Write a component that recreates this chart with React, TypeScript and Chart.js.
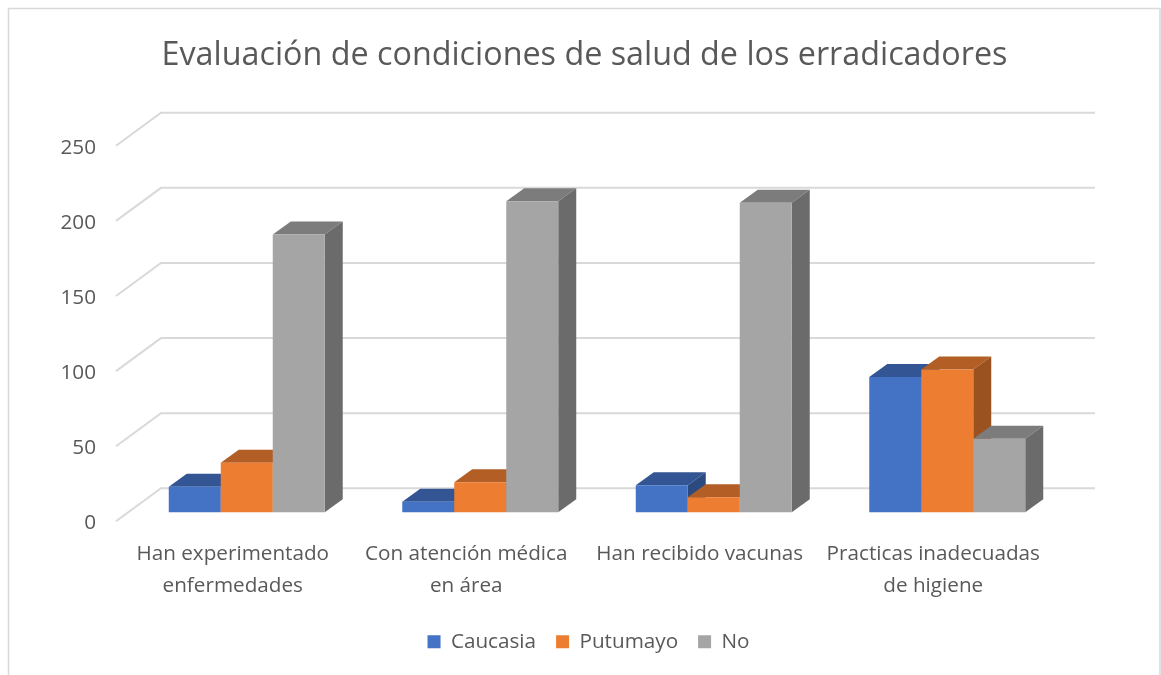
import React, { useEffect, useRef } from "react";
import { Chart, registerables } from "chart.js";

Chart.register(...registerables);

const categories = [
  ["Han experimentado", "enfermedades"],
  ["Con atención médica", "en área"],
  "Han recibido vacunas",
  ["Practicas inadecuadas", "de higiene"],
];
const caucasia = [17, 7, 18, 90];
const putumayo = [33, 20, 10, 95];
const no = [185, 207, 206, 49];
const yTicks = [0, 50, 100, 150, 200, 250];

const FONT = "'Open Sans', sans-serif";
const TEXT = "#595959";
const GRID = "#d9d9d9";
const WALL_X_OFFSET = 45;
const WALL_Y_OFFSET = -33;
const WALL_RIGHT = 1095;
const FRONT_Y_OFFSET = -2;
const BAR_SHIFT_X = 14;
const BAR_SHIFT_Y = -11;
const DEPTH_X = 18;
const DEPTH_Y = -13;
const LEGEND_SHIFT = 4;

const faces: Record<string, { top: string; side: string }> = {
  Caucasia: { top: "#335593", side: "#2b4a80" },
  Putumayo: { top: "#b25e24", side: "#9a5220" },
  No: { top: "#7c7c7c", side: "#6b6b6b" },
};

const framePlugin = {
  id: "frame",
  afterLayout(chart: any) {
    chart.legend.left += LEGEND_SHIFT;
    chart.legend.right += LEGEND_SHIFT;
  },
  beforeDraw(chart: any) {
    const { ctx, width, height } = chart;
    ctx.save();
    ctx.strokeStyle = GRID;
    ctx.lineWidth = 1.5;
    ctx.beginPath();
    ctx.moveTo(8.5, height);
    ctx.lineTo(8.5, 8.5);
    ctx.lineTo(width - 1, 8.5);
    ctx.lineTo(width - 1, height);
    ctx.stroke();
    ctx.restore();
  },
};

const scene3dPlugin = {
  id: "scene3d",
  beforeDatasetsDraw(chart: any) {
    const { ctx, chartArea } = chart;
    const y = chart.scales.y;
    ctx.save();
    ctx.strokeStyle = GRID;
    ctx.lineWidth = 2;
    yTicks.forEach((v) => {
      const py = y.getPixelForValue(v) + FRONT_Y_OFFSET;
      ctx.beginPath();
      ctx.moveTo(chartArea.left, py);
      ctx.lineTo(chartArea.left + WALL_X_OFFSET, py + WALL_Y_OFFSET);
      ctx.lineTo(WALL_RIGHT, py + WALL_Y_OFFSET);
      ctx.stroke();
    });
    ctx.restore();

    // Excel paints the series left to right, so later series cover earlier ones.
    chart.data.datasets.forEach((ds: any, index: number) => {
      const meta = chart.getDatasetMeta(index);
      ctx.save();
      ctx.translate(BAR_SHIFT_X, BAR_SHIFT_Y);
      meta.data.forEach((el: any) => {
        const l = el.x - el.width / 2;
        const r = el.x + el.width / 2;
        ctx.fillStyle = faces[ds.label].top;
        ctx.beginPath();
        ctx.moveTo(l, el.y);
        ctx.lineTo(l + DEPTH_X, el.y + DEPTH_Y);
        ctx.lineTo(r + DEPTH_X, el.y + DEPTH_Y);
        ctx.lineTo(r, el.y);
        ctx.closePath();
        ctx.fill();
        ctx.fillStyle = faces[ds.label].side;
        ctx.beginPath();
        ctx.moveTo(r, el.y);
        ctx.lineTo(r + DEPTH_X, el.y + DEPTH_Y);
        ctx.lineTo(r + DEPTH_X, el.base + DEPTH_Y);
        ctx.lineTo(r, el.base);
        ctx.closePath();
        ctx.fill();
      });
      meta.controller.draw();
      ctx.restore();
    });
    return false;
  },
};

export default function App() {
  const ref = useRef<HTMLCanvasElement>(null);
  useEffect(() => {
    const chart = new Chart(ref.current!, {
      type: "bar",
      data: {
        labels: categories as any,
        datasets: [
          { label: "Caucasia", data: caucasia, backgroundColor: "#4472c4", yAxisID: "y" },
          { label: "Putumayo", data: putumayo, backgroundColor: "#ed7d31", yAxisID: "y" },
          { label: "No", data: no, backgroundColor: "#a5a5a5", yAxisID: "y" },
        ],
      },
      plugins: [framePlugin, scene3dPlugin],
      options: {
        responsive: false,
        animation: false,
        layout: { padding: { left: 8, right: 0, top: 0, bottom: 13 } },
        datasets: { bar: { barPercentage: 1, categoryPercentage: 0.668 } },
        scales: {
          x: {
            grid: { display: false },
            border: { display: false },
            afterFit: (s: any) => { s.height = 88; },
            ticks: {
              maxRotation: 0,
              autoSkip: false,
              padding: 7,
              color: TEXT,
              font: { family: FONT, size: 20.7, lineHeight: 1.55 },
            },
          },
          y: {
            min: 0,
            max: 250,
            afterFit: (s: any) => { s.width = 108; },
            grid: { display: false },
            border: { display: false },
            afterBuildTicks: (s: any) => { s.ticks = yTicks.map((value) => ({ value })); },
            ticks: {
              padding: 12,
              color: TEXT,
              font: { family: FONT, size: 20.7 },
            },
          },
          yRight: {
            axis: "y",
            position: "right",
            afterFit: (s: any) => { s.width = 111; },
            grid: { display: false },
            border: { display: false },
            ticks: { display: false },
          },
        } as any,
        plugins: {
          tooltip: { enabled: false },
          title: {
            display: true,
            text: "Evaluación de condiciones de salud de los erradicadores",
            color: TEXT,
            font: { family: FONT, size: 32.3, weight: "normal" },
            padding: { top: 36, bottom: 73 },
          },
          legend: {
            position: "bottom",
            labels: {
              color: TEXT,
              boxWidth: 13,
              boxHeight: 13,
              padding: 20,
              font: { family: FONT, size: 20.7 },
            },
          },
        },
      },
    });
    return () => chart.destroy();
  }, []);
  return (
    <canvas
      ref={ref}
      width={1161}
      height={675}
      style={{ position: "absolute", left: 0, top: 0, display: "block" }}
    />
  );
}
